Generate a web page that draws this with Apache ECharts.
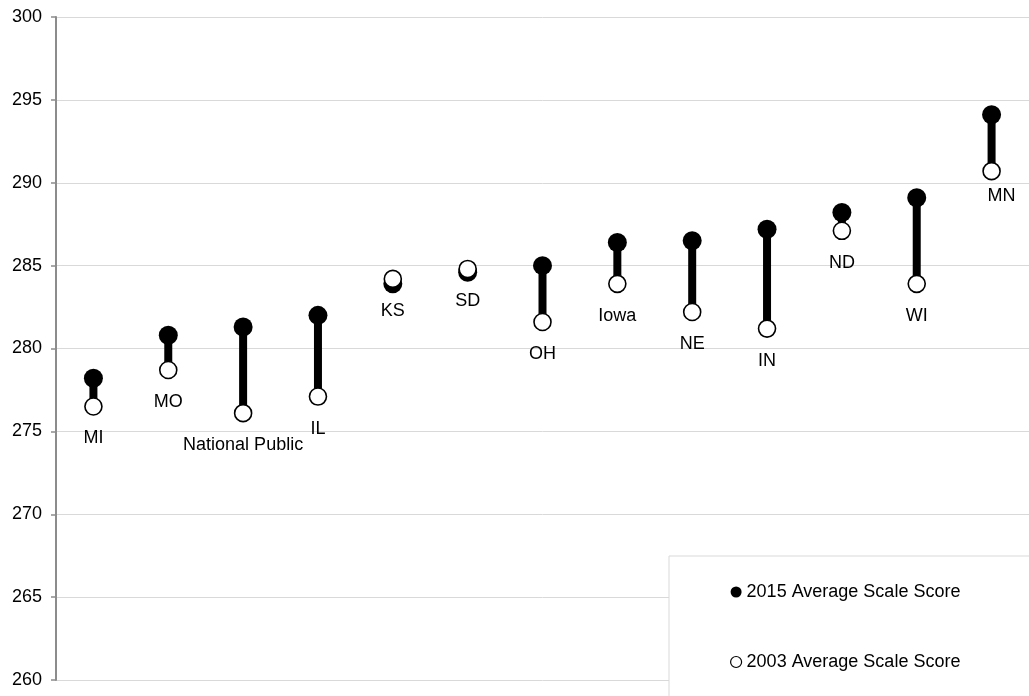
<!DOCTYPE html>
<html>
<head>
<meta charset="utf-8">
<script src="https://cdn.jsdelivr.net/npm/echarts@6/dist/echarts.min.js"></script>
<style>
html,body{margin:0;padding:0;background:#fff;}
#chart{width:1029px;height:696px;}
</style>
</head>
<body>
<div id="chart"></div>
<script>
const categories = ['MI','MO','National Public','IL','KS','SD','OH','Iowa','NE','IN','ND','WI','MN'];
const score2015 = [278.2, 280.8, 281.3, 282.0, 283.9, 284.6, 285.0, 286.4, 286.5, 287.2, 288.2, 289.1, 294.1];
const score2003 = [276.5, 278.7, 276.1, 277.1, 284.2, 284.8, 281.6, 283.9, 282.2, 281.2, 287.1, 283.9, 290.7];
const yTicks = [260, 265, 270, 275, 280, 285, 290, 295, 300];

const FONT = "'Liberation Sans', Arial, sans-serif";
const chart = echarts.init(document.getElementById('chart'), null, {renderer:'canvas'});

const rangeData = categories.map((c, i) => [i, score2003[i], score2015[i]]);
const openData = score2003.map((v, i) => {
  const d = {value: v};
  if (categories[i] === 'MN') d.label = {offset: [10, 25]};
  return d;
});

chart.setOption({
  animation: false,
  backgroundColor: '#fff',
  textStyle: {fontFamily: FONT},
  grid: {left: 56, top: 17, width: 980, height: 663, containLabel: false},
  xAxis: {
    type: 'category', data: categories, boundaryGap: true,
    axisLine: {show: false}, axisTick: {show: false}, axisLabel: {show: false},
    splitLine: {show: false}
  },
  yAxis: {
    type: 'value', min: yTicks[0], max: yTicks[yTicks.length - 1], interval: 5,
    axisLine: {show: true, lineStyle: {color: '#8c8c8c', width: 2}},
    axisTick: {show: true, length: 5, lineStyle: {color: '#8c8c8c', width: 1.5}},
    axisLabel: {color: '#000', fontSize: 18, fontFamily: FONT, margin: 14},
    splitLine: {show: true, lineStyle: {color: '#d9d9d9', width: 1}}
  },
  legend: {
    orient: 'vertical', left: 669, top: 556, width: 400, height: 300,
    padding: [27, 120, 60, 61],
    itemWidth: 11, itemHeight: 11, itemGap: 52,
    backgroundColor: '#fff', borderColor: '#d9d9d9', borderWidth: 1,
    textStyle: {color: '#000', fontSize: 18, fontFamily: FONT},
    data: [
      {name: '2015 Average Scale Score', icon: 'circle', itemStyle: {color: '#000', borderWidth: 0}},
      {name: '2003 Average Scale Score', icon: 'circle', itemStyle: {color: '#fff', borderColor: '#000', borderWidth: 1.2}}
    ]
  },
  series: [
    {
      type: 'custom', name: 'range', z: 1, silent: true,
      data: rangeData,
      encode: {x: 0, y: [1, 2]},
      renderItem: function (params, api) {
        const p1 = api.coord([api.value(0), api.value(1)]);
        const p2 = api.coord([api.value(0), api.value(2)]);
        return {
          type: 'line',
          shape: {x1: p1[0], y1: p1[1], x2: p2[0], y2: p2[1]},
          style: {stroke: '#000', lineWidth: 8}
        };
      }
    },
    {
      type: 'scatter', name: '2015 Average Scale Score', z: 2,
      data: score2015, symbol: 'circle', symbolSize: 19,
      itemStyle: {color: '#000', opacity: 1}
    },
    {
      type: 'scatter', name: '2003 Average Scale Score', z: 3,
      data: openData, symbol: 'circle', symbolSize: 17,
      itemStyle: {color: '#fff', borderColor: '#000', borderWidth: 1.6, opacity: 1},
      label: {
        show: true, position: 'inside', offset: [0, 32],
        formatter: function (p) { return categories[p.dataIndex]; },
        color: '#000', fontSize: 18, fontFamily: FONT
      }
    }
  ]
});
</script>
</body>
</html>
